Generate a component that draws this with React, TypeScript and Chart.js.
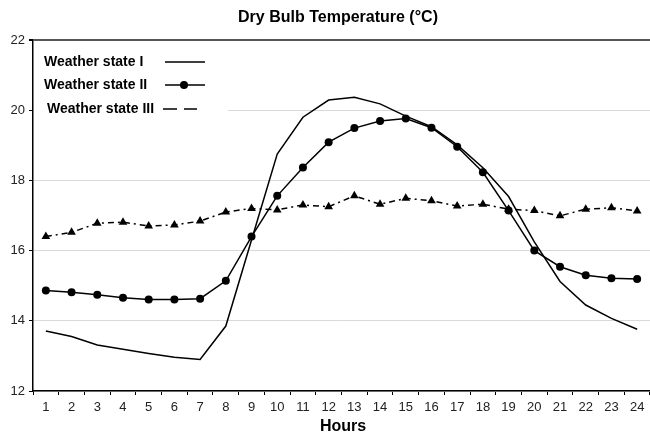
import React, { useEffect, useRef } from "react";
import { Chart, registerables } from "chart.js";

Chart.register(...registerables);

const hours = ["1","2","3","4","5","6","7","8","9","10","11","12","13","14","15","16","17","18","19","20","21","22","23","24"];
const stateI = [13.71,13.55,13.31,13.19,13.07,12.96,12.9,13.85,16.3,18.75,19.8,20.29,20.37,20.18,19.83,19.53,19.01,18.36,17.54,16.25,15.12,14.45,14.07,13.76];
const stateII = [14.86,14.81,14.74,14.66,14.61,14.61,14.63,15.14,16.4,17.56,18.37,19.09,19.49,19.69,19.76,19.5,18.96,18.23,17.14,16.0,15.54,15.3,15.21,15.19];
const stateIII = [16.4,16.52,16.78,16.81,16.7,16.73,16.84,17.1,17.2,17.16,17.3,17.25,17.56,17.32,17.49,17.42,17.27,17.32,17.18,17.14,16.99,17.18,17.22,17.13];
const seriesNames = ["Weather state I", "Weather state II", "Weather state III"];
const titleText = "Dry Bulb Temperature (°C)";
const xTitle = "Hours";

const FONT = "'Liberation Sans', Arial, sans-serif";

const overlay = {
  id: "overlay",
  beforeDatasetsDraw(chart: any) {
    const ctx = chart.ctx;
    ctx.save();
    ctx.fillStyle = "#fff";
    ctx.fillRect(34, 43, 194, 76);
    ctx.fillStyle = "#000";
    ctx.font = "bold 14px " + FONT;
    ctx.textAlign = "left";
    ctx.textBaseline = "middle";
    ctx.fillText(seriesNames[0], 44, 62);
    ctx.fillText(seriesNames[1], 44, 85);
    ctx.fillText(seriesNames[2], 47, 109);
    ctx.strokeStyle = "#000";
    ctx.lineWidth = 1.5;
    ctx.beginPath();
    ctx.moveTo(165, 62); ctx.lineTo(205, 62);
    ctx.moveTo(165, 85); ctx.lineTo(205, 85);
    ctx.moveTo(163, 109); ctx.lineTo(177, 109);
    ctx.moveTo(184, 109); ctx.lineTo(197, 109);
    ctx.stroke();
    ctx.beginPath();
    ctx.arc(184, 85, 4, 0, Math.PI * 2);
    ctx.fill();
    ctx.restore();
  },
  afterDraw(chart: any) {
    const ctx = chart.ctx;
    ctx.save();
    ctx.fillStyle = "#000";
    ctx.textAlign = "center";
    ctx.textBaseline = "middle";
    ctx.font = "bold 16px " + FONT;
    ctx.fillText(titleText, 338, 18);
    ctx.font = "bold 16px " + FONT;
    ctx.fillText(xTitle, 343, 427);
    ctx.restore();
  },
};

export default function App() {
  const ref = useRef<HTMLCanvasElement | null>(null);
  useEffect(() => {
    if (!ref.current) return;
    const chart = new Chart(ref.current, {
      type: "line",
      data: {
        labels: hours,
        datasets: [
          {
            label: seriesNames[0],
            data: stateI,
            borderColor: "#000",
            borderWidth: 1.5,
            pointRadius: 0,
            tension: 0,
          },
          {
            label: seriesNames[1],
            data: stateII,
            borderColor: "#000",
            backgroundColor: "#000",
            borderWidth: 1.5,
            pointStyle: "circle",
            pointRadius: 4,
            pointBorderWidth: 0,
            tension: 0,
          },
          {
            label: seriesNames[2],
            data: stateIII,
            borderColor: "#000",
            backgroundColor: "#000",
            borderWidth: 1.5,
            borderDash: [6, 4, 2, 4],
            pointStyle: "triangle",
            pointRadius: 5,
            pointBorderWidth: 0,
            tension: 0,
          },
        ],
      },
      options: {
        responsive: false,
        animation: false,
        layout: { padding: { top: 40, left: 0, right: 1, bottom: 0 } },
        plugins: {
          legend: { display: false },
          title: { display: false },
          tooltip: { enabled: false },
        },
        scales: {
          x: {
            offset: true,
            grid: {
              display: true,
              drawOnChartArea: false,
              drawTicks: true,
              tickLength: 4,
              tickColor: "#000",
              offset: true,
            },
            border: { display: true, color: "#000", width: 1.5 },
            ticks: {
              color: "#222",
              font: { family: FONT, size: 13 },
              padding: 5,
              maxRotation: 0,
              autoSkip: false,
            },
            afterFit(scale: any) {
              scale.height = 44;
            },
          },
          y: {
            min: 12,
            max: 22,
            ticks: {
              stepSize: 2,
              color: "#222",
              font: { family: FONT, size: 13 },
              padding: 4,
            },
            grid: {
              color: (c: any) => (c.tick && c.tick.value === 22 ? "#555" : "#d9d9d9"),
              lineWidth: (c: any) => (c.tick && c.tick.value === 22 ? 2 : 1),
              tickLength: 4,
              tickColor: "#000",
            },
            border: { display: true, color: "#000", width: 1.5 },
            afterFit(scale: any) {
              scale.width = 33;
            },
          },
        },
      },
      plugins: [overlay],
    });
    return () => chart.destroy();
  }, []);
  return (
    <div style={{ position: "fixed", left: 0, top: 0, width: 655, height: 435, background: "#fff" }}>
      <canvas ref={ref} width={655} height={435} style={{ display: "block" }} />
    </div>
  );
}
